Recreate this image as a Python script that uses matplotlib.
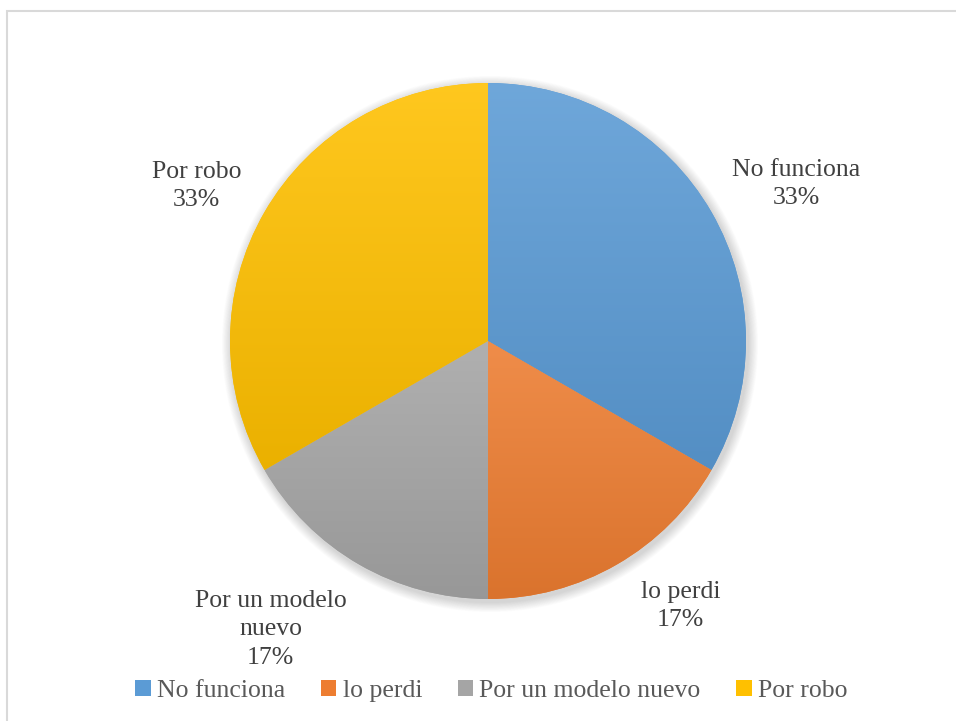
import numpy as np
import matplotlib
matplotlib.use("Agg")
import matplotlib.pyplot as plt
from matplotlib.patches import Rectangle, Circle
from matplotlib.colors import to_rgb

plt.rcParams['font.family'] = ['Liberation Serif', 'DejaVu Serif']

categories = ['No funciona', 'lo perdi', 'Por un modelo nuevo', 'Por robo']
values = [2, 1, 1, 2]
pct_labels = ['33%', '17%', '17%', '33%']
point_labels = ['No funciona', 'lo perdi', 'Por un modelo\nnuevo', 'Por robo']
colors = ['#5B9BD5', '#ED7D31', '#A5A5A5', '#FFC000']

W, H = 956, 721
fig = plt.figure(figsize=(W / 100, H / 100), dpi=100)
ax = fig.add_axes([0, 0, 1, 1])
ax.set_xlim(0, W)
ax.set_ylim(0, H)
ax.axis('off')

# chart area frame (left and top edges show)
ax.add_patch(Rectangle((7, -20), 1000, H - 11 + 20, fill=False,
                       edgecolor='#D9D9D9', lw=1.5, zorder=0))

cx, cy, R = 488, H - 341, 258

# soft drop shadow
for i in range(14):
    ax.add_patch(Circle((cx + 2, cy - 3), R + 1 + i * 0.7, color='black',
                        alpha=0.012, lw=0, zorder=1))


def shade(c, f):
    c = np.array(to_rgb(c))
    if f >= 0:
        return c + (1 - c) * f
    return c * (1 + f)


wedges, _ = ax.pie(values, colors=colors, startangle=90, counterclock=False,
                   center=(cx, cy), radius=R, frame=True,
                   wedgeprops=dict(lw=0, zorder=2))
ax.set_xlim(0, W)
ax.set_ylim(0, H)
ax.set_aspect('equal')
ax.axis('off')

# vertical gradient inside each slice
for w, c in zip(wedges, colors):
    bb = w.get_path().get_extents(w.get_transform() - ax.transData)
    top, bot = shade(c, 0.12), shade(c, -0.08)
    t = np.linspace(0, 1, 256)[:, None]
    grad = top[None, :] * (1 - t) + bot[None, :] * t
    img = ax.imshow(grad[:, None, :], extent=(bb.x0, bb.x1, bb.y0, bb.y1),
                    origin='upper', aspect='auto', zorder=3,
                    interpolation='bilinear')
    img.set_clip_path(w)

ax.set_xlim(0, W)
ax.set_ylim(0, H)

# data labels placed around each slice's mid angle
label_shift = [(-3, 1.34), (6, 1.27), (-7, 1.40), (2, 1.28)]
for w, lab, pct, (da, rf) in zip(wedges, point_labels, pct_labels, label_shift):
    mid = np.deg2rad((w.theta1 + w.theta2) / 2 + da)
    x = cx + rf * R * np.cos(mid)
    y = cy + rf * R * np.sin(mid)
    ax.text(x, y, f'{lab}\n{pct}', ha='center', va='center', fontsize=18.5,
            color='#404040', linespacing=1.4, zorder=5)

leg = fig.legend(wedges, categories, loc='center', bbox_to_anchor=(0.514, 1 - 691 / H),
                 ncol=4, frameon=False, fontsize=18.5, handlelength=0.6,
                 handleheight=0.6, handletextpad=0.25, columnspacing=1.38,
                 labelcolor='#595959')
for h, c in zip(leg.legend_handles, colors):
    h.set_facecolor(c)

fig.savefig('out.png', dpi=100)
